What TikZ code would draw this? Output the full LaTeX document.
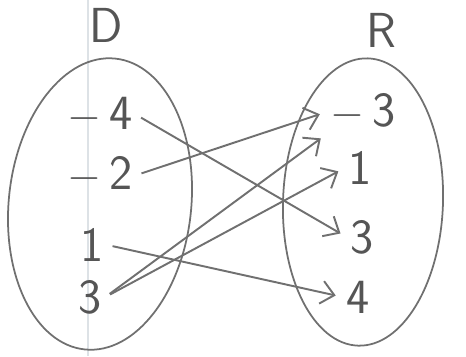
\documentclass[tikz,border=0pt]{standalone}
\usetikzlibrary{arrows.meta,shapes.geometric}
\definecolor{penline}{HTML}{707070}
\definecolor{pentext}{HTML}{555555}
\definecolor{marginrule}{HTML}{DDE2E6}

\begin{document}
\begin{tikzpicture}[
  x=0.02cm, y=-0.02cm,
  elem/.style={font=\sffamily\fontsize{28}{28}\selectfont, text=pentext,
    inner sep=2pt},
  setname/.style={elem},
  setline/.style={draw=penline, line width=1pt, ellipse},
  mapsto/.style={-{Straight Barb[length=2.6mm,width=4.6mm]}, draw=penline,
    line width=1.1pt, shorten <=3pt, shorten >=4pt},
]
  \useasboundingbox (0,0) rectangle (466,356);
  \draw[marginrule, line width=0.6pt] (88,0) -- (88,356);

  % the two sets
  \node[setline, minimum width=3.65cm, minimum height=5.85cm, rotate=-6]
    (dom) at (100,204) {};
  \node[setline, minimum width=3.2cm, minimum height=5.75cm, rotate=-2]
    (ran) at (363,202) {};
  \node[setname] (dom-name) at (106,25) {D};
  \node[setname] (ran-name) at (381,30) {R};

  % domain
  \node[elem] (d-m4) at (100,115) {$-$\,4};
  \node[elem] (d-m2) at (100,175) {$-$\,2};
  \node[elem] (d-1) at (92,245) {1};
  \node[elem] (d-3) at (90,297) {3};

  % range
  \node[elem] (r-m3) at (363,112) {$-$\,3};
  \node[elem] (r-1) at (360,168) {1};
  \node[elem] (r-3) at (362,237) {3};
  \node[elem] (r-4) at (358,297) {4};

  \draw[mapsto] (d-m4.east) -- (r-3.west);
  \draw[mapsto] (d-m2.east) -- (r-m3.west);
  \draw[mapsto] (d-1.east) -- (r-4.west);
  \draw[mapsto] (d-3.east) -- (r-m3.south west);
  \draw[mapsto] (d-3.east) -- (r-1.west);
\end{tikzpicture}
\end{document}
